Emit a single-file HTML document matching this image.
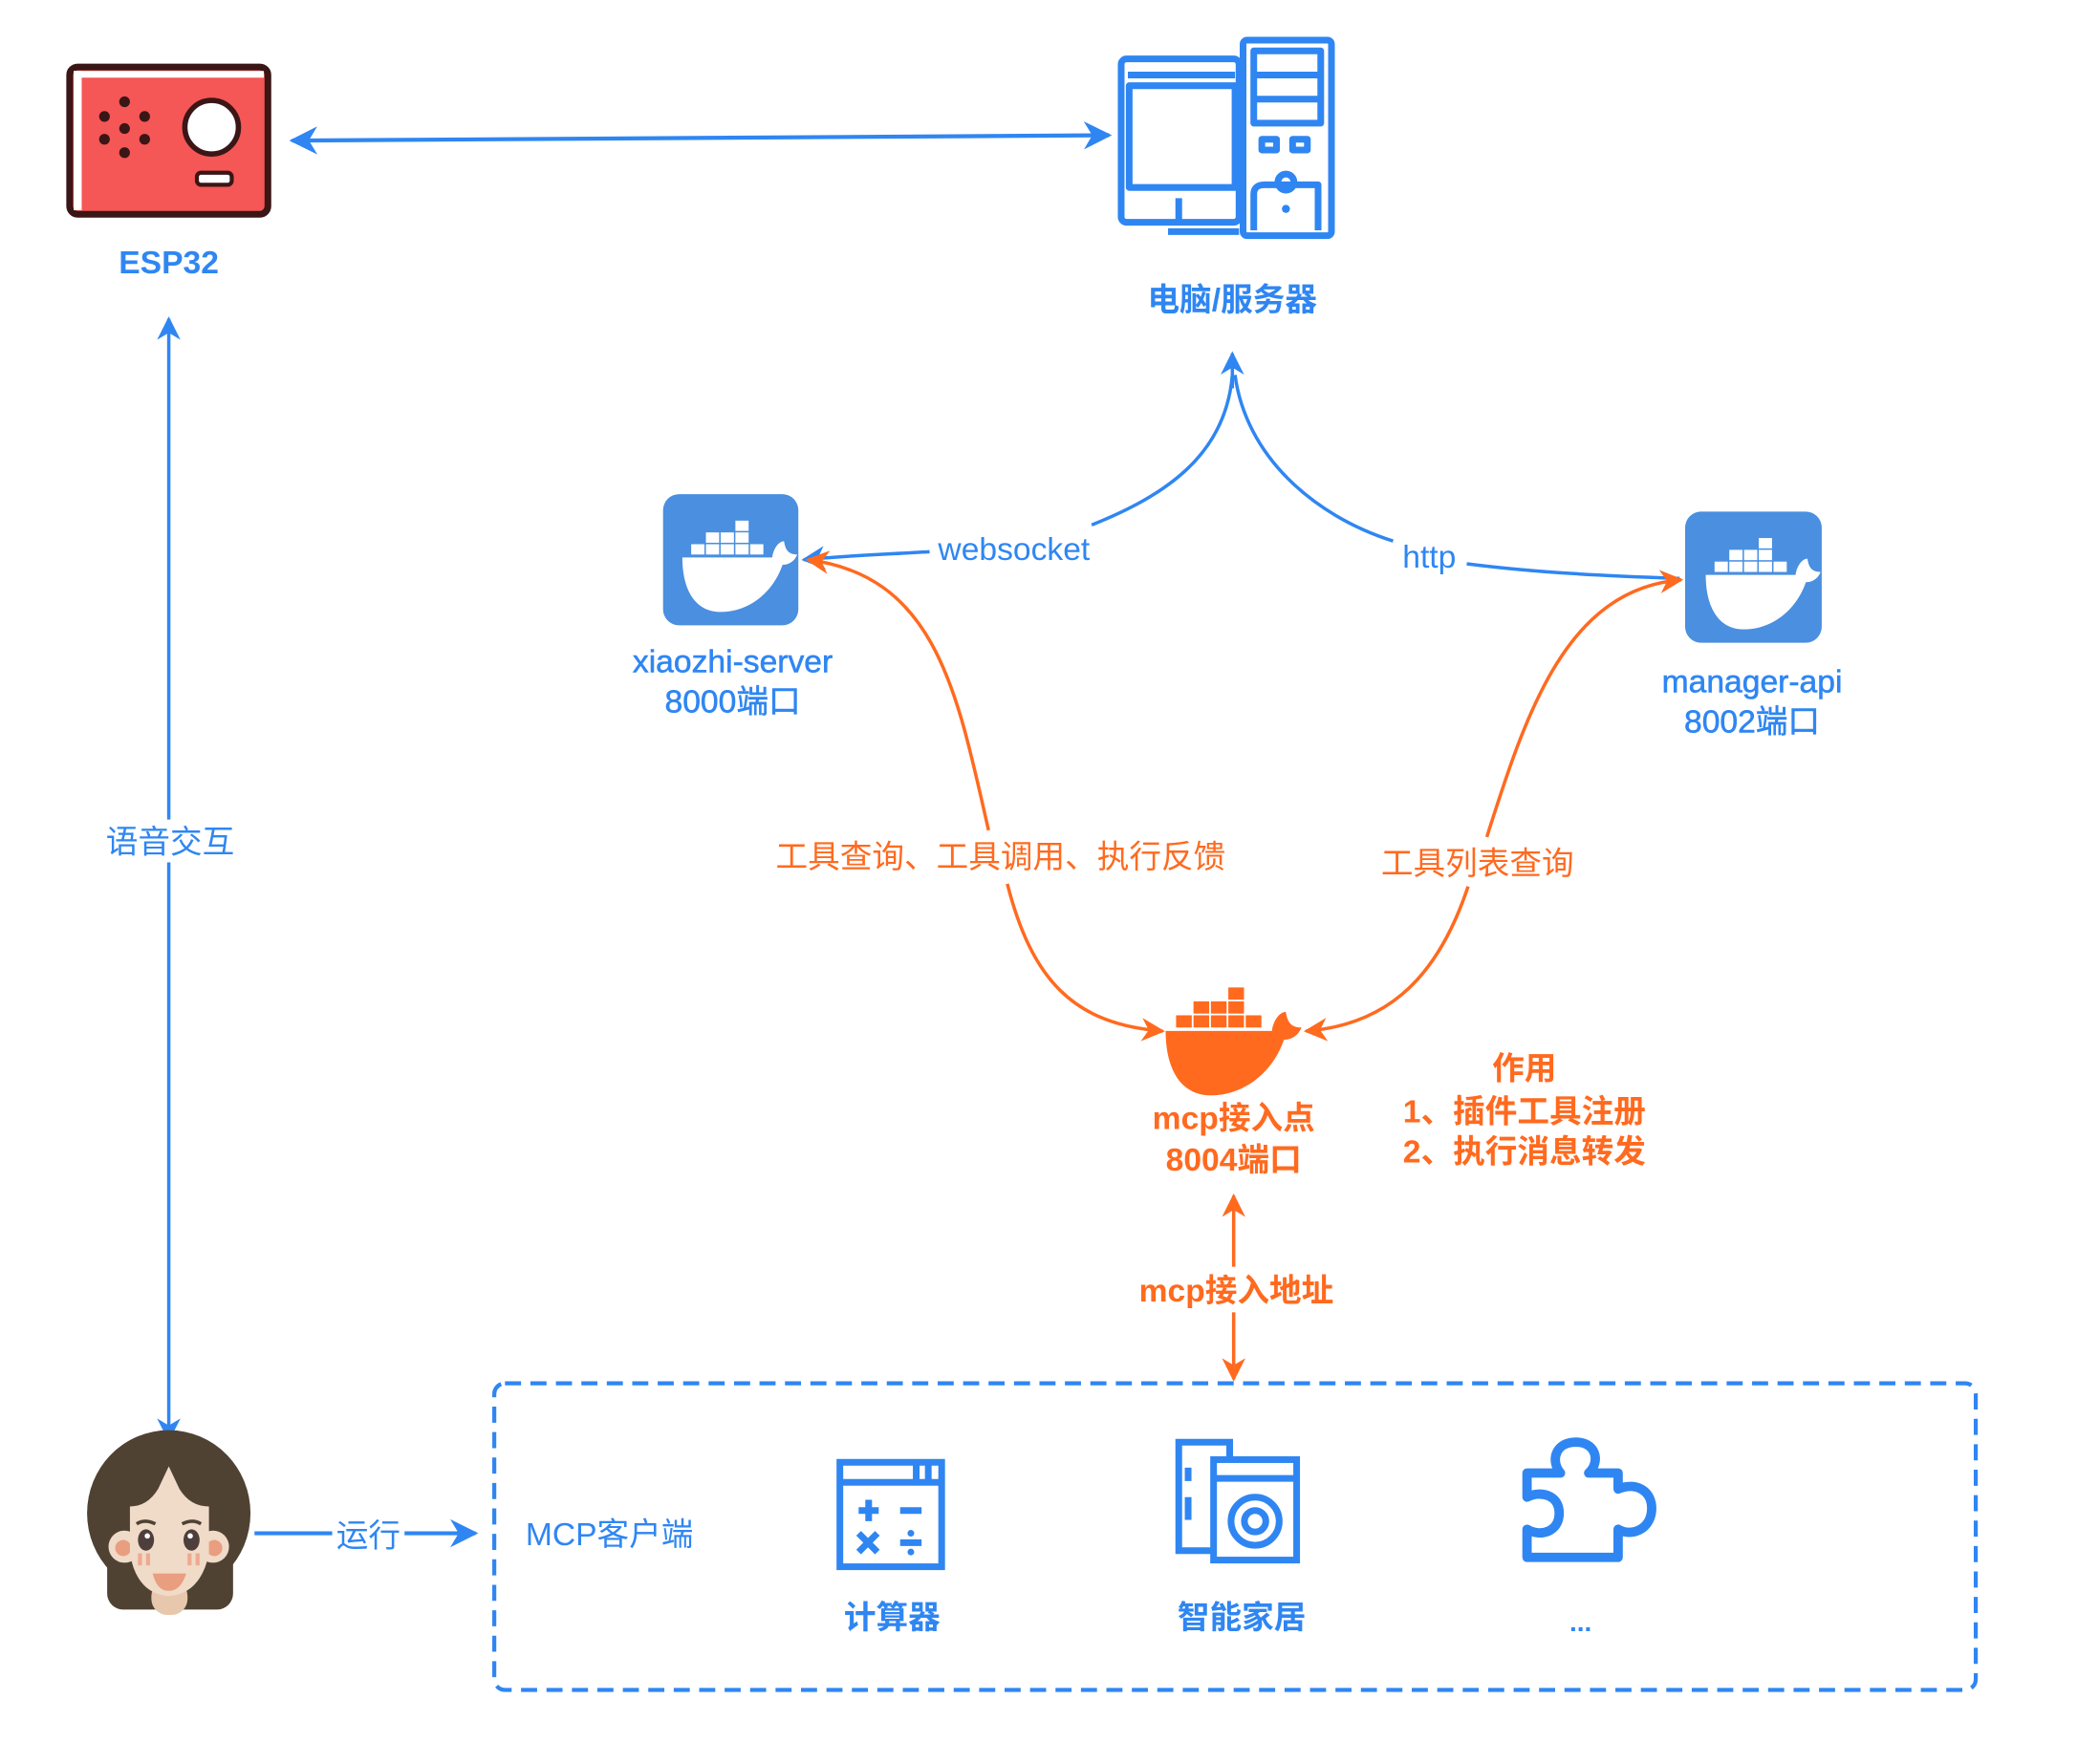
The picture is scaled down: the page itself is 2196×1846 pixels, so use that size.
<!DOCTYPE html>
<html><head><meta charset="utf-8"><style>
html,body{margin:0;padding:0;background:#fff;}
svg{display:block;}
text{font-family:"Liberation Sans","Noto Sans CJK SC",sans-serif;}
</style></head><body>
<svg width="2196" height="1846" viewBox="0 0 1567 1317.3" preserveAspectRatio="none" xmlns="http://www.w3.org/2000/svg">
<defs>
<marker id="ab" viewBox="0 0 10 10" refX="9" refY="5" markerWidth="7" markerHeight="7" orient="auto-start-reverse" markerUnits="strokeWidth"><path d="M0,0 L10,5 L0,10 L3,5 Z" fill="#2f86f2"/></marker>
<marker id="ao" viewBox="0 0 10 10" refX="9" refY="5" markerWidth="7" markerHeight="7" orient="auto-start-reverse" markerUnits="strokeWidth"><path d="M0,0 L10,5 L0,10 L3,5 Z" fill="#ff6a1f"/></marker>
<g id="whale">
<rect x="0" y="24" width="9" height="7"/><rect x="10" y="24" width="9" height="7"/><rect x="20" y="24" width="9" height="7"/><rect x="30" y="24" width="9" height="7"/><rect x="40" y="24" width="9" height="7"/>
<rect x="10" y="16" width="9" height="7"/><rect x="20" y="16" width="9" height="7"/><rect x="30" y="16" width="9" height="7"/>
<rect x="30" y="8" width="9" height="7"/>
<path d="M-6,33 H55 C56,26 60,22 63,22 C64,28 66,31 72,31 C70,36 66,38 62,38 C55,58 38,70 20,70 C2,70 -6,54 -6,33 Z"/>
</g>
</defs>

<!-- ESP32 -->
<rect x="52" y="50" width="148" height="110" rx="6" fill="#f55656" stroke="#3a1616" stroke-width="5"/>
<rect x="55" y="53" width="6" height="104" fill="#fff"/>
<rect x="55" y="53" width="142" height="5" fill="#fff"/>
<g fill="#3a1616"><circle cx="93" cy="76" r="4"/><circle cx="78" cy="87" r="4"/><circle cx="108" cy="87" r="4"/><circle cx="93" cy="96" r="4"/><circle cx="78" cy="104" r="4"/><circle cx="108" cy="104" r="4"/><circle cx="93" cy="114" r="4"/></g>
<circle cx="158" cy="95" r="20" fill="#fff" stroke="#3a1616" stroke-width="4"/>
<rect x="147" y="129" width="26" height="9" rx="3" fill="#fff" stroke="#3a1616" stroke-width="3"/>
<text x="126" y="204" font-size="24" font-weight="bold" fill="#2f86f2" text-anchor="middle">ESP32</text>

<line x1="218" y1="105" x2="828" y2="101" stroke="#2f86f2" stroke-width="3" marker-start="url(#ab)" marker-end="url(#ab)"/>

<!-- Computer -->
<g fill="none" stroke="#2f86f2" stroke-width="5" stroke-linejoin="round">
<rect x="837" y="44" width="88" height="122" rx="4"/>
<line x1="842" y1="56" x2="922" y2="56"/>
<path d="M843,64 H922 V140 H843 Z"/>
<path d="M880,148 V165 M872,173 H925"/>
<rect x="928" y="30" width="66" height="146" rx="3"/>
<path d="M936,38 H986 V92 H936 Z M936,56 H986 M936,74 H986"/>
<rect x="942" y="104" width="11" height="8"/><rect x="965" y="104" width="11" height="8"/>
<path d="M936,172 V145 Q936,138 944,138 H984 V172"/>
<circle cx="960" cy="136" r="6"/>
</g>
<circle cx="960" cy="156" r="3" fill="#2f86f2"/>
<text x="920" y="232" font-size="24" font-weight="bold" fill="#2f86f2" text-anchor="middle">电脑/服务器</text>

<!-- 语音交互 -->
<line x1="126" y1="238" x2="126" y2="1075" stroke="#2f86f2" stroke-width="2.5" marker-start="url(#ab)" marker-end="url(#ab)"/>
<rect x="76" y="612" width="102" height="32" fill="#fff"/>
<text x="127" y="637" font-size="24" fill="#2f86f2" text-anchor="middle">语音交互</text>

<!-- blue curves -->
<line x1="920" y1="290" x2="920" y2="264" stroke="#2f86f2" stroke-width="2.5" marker-end="url(#ab)"/>
<path d="M920,280 C915,340 870,370 815,392" fill="none" stroke="#2f86f2" stroke-width="2.5"/>
<path d="M694,412 C660,414 630,415 600,418" fill="none" stroke="#2f86f2" stroke-width="2.5" marker-end="url(#ab)"/>
<path d="M922,280 C930,340 980,385 1040,404" fill="none" stroke="#2f86f2" stroke-width="2.5"/>
<path d="M1095,421 C1150,428 1200,430 1254,432" fill="none" stroke="#2f86f2" stroke-width="2.5"/>
<text x="757" y="418" font-size="24" fill="#2f86f2" text-anchor="middle">websocket</text>
<text x="1067" y="424" font-size="24" fill="#2f86f2" text-anchor="middle">http</text>

<!-- xiaozhi-server -->
<rect x="495" y="369" width="101" height="98" rx="12" fill="#4a8fe0"/>
<use href="#whale" x="0" y="0" fill="#fff" transform="translate(516,380) scale(1.1)"/>
<text x="547" y="502" font-size="24" font-weight="500" fill="#2f86f2" text-anchor="middle" stroke="#2f86f2" stroke-width="0.4">xiaozhi-server</text>
<text x="547" y="532" font-size="24" fill="#2f86f2" text-anchor="middle" stroke="#2f86f2" stroke-width="0.4">8000端口</text>

<!-- manager-api -->
<rect x="1258" y="382" width="102" height="98" rx="12" fill="#4a8fe0"/>
<use href="#whale" x="0" y="0" fill="#fff" transform="translate(1280,393) scale(1.1)"/>
<text x="1308" y="517" font-size="24" fill="#2f86f2" text-anchor="middle" stroke="#2f86f2" stroke-width="0.4">manager-api</text>
<text x="1308" y="547" font-size="24" fill="#2f86f2" text-anchor="middle" stroke="#2f86f2" stroke-width="0.4">8002端口</text>

<!-- orange curves -->
<path d="M738,620 C715,520 700,430 603,418" fill="none" stroke="#ff6a1f" stroke-width="2.5" marker-end="url(#ao)"/>
<path d="M752,660 C770,730 800,765 868,770" fill="none" stroke="#ff6a1f" stroke-width="2.5" marker-end="url(#ao)"/>
<path d="M1110,625 C1140,530 1170,440 1255,433" fill="none" stroke="#ff6a1f" stroke-width="2.5" marker-end="url(#ao)"/>
<path d="M1096,662 C1075,725 1040,765 975,770" fill="none" stroke="#ff6a1f" stroke-width="2.5" marker-end="url(#ao)"/>
<text x="747" y="648" font-size="24" fill="#ff6a1f" text-anchor="middle">工具查询、工具调用、执行反馈</text>
<text x="1103" y="653" font-size="24" fill="#ff6a1f" text-anchor="middle">工具列表查询</text>

<!-- mcp -->
<use href="#whale" x="0" y="0" fill="#ff6a1f" transform="translate(878,727) scale(1.3)"/>
<text x="921" y="843" font-size="24" font-weight="bold" fill="#ff6a1f" text-anchor="middle">mcp接入点</text>
<text x="921" y="874" font-size="24" font-weight="bold" fill="#ff6a1f" text-anchor="middle">8004端口</text>
<text x="1138" y="806" font-size="24" font-weight="bold" fill="#ff6a1f" text-anchor="middle">作用</text>
<text x="1138" y="838" font-size="24" font-weight="bold" fill="#ff6a1f" text-anchor="middle">1、插件工具注册</text>
<text x="1138" y="868" font-size="24" font-weight="bold" fill="#ff6a1f" text-anchor="middle">2、执行消息转发</text>

<line x1="921" y1="893" x2="921" y2="1030" stroke="#ff6a1f" stroke-width="2.5" marker-start="url(#ao)" marker-end="url(#ao)"/>
<rect x="846" y="946" width="154" height="34" fill="#fff"/>
<text x="923" y="972" font-size="24" font-weight="bold" fill="#ff6a1f" text-anchor="middle">mcp接入地址</text>

<!-- dashed box -->
<rect x="369" y="1033" width="1106" height="229" rx="8" fill="none" stroke="#2f86f2" stroke-width="3" stroke-dasharray="12,7"/>

<!-- person -->
<ellipse cx="126" cy="1130" rx="61" ry="62" fill="#4f4233"/>
<rect x="80" y="1150" width="94" height="52" rx="12" fill="#4f4233"/>
<circle cx="93" cy="1155" r="12" fill="#f0dac8"/><circle cx="159" cy="1155" r="12" fill="#f0dac8"/>
<circle cx="92" cy="1156" r="6" fill="#e99e80"/><circle cx="160" cy="1156" r="6" fill="#e99e80"/>
<rect x="113" y="1180" width="27" height="26" rx="12" fill="#e8c8ac"/>
<path d="M97,1125 Q110,1125 118,1112 L126,1095 L134,1112 Q142,1125 156,1125 L156,1160 Q150,1190 126,1192 Q102,1190 97,1160 Z" fill="#f0dac8"/>
<ellipse cx="109" cy="1150" rx="6" ry="8" fill="#4f3f3c"/><ellipse cx="143" cy="1150" rx="6" ry="8" fill="#4f3f3c"/>
<circle cx="110" cy="1147" r="2" fill="#fff"/><circle cx="142" cy="1147" r="2" fill="#fff"/>
<path d="M102,1138 Q108,1134 116,1138 M136,1138 Q144,1134 150,1138" stroke="#4f4233" stroke-width="2.5" fill="none"/>
<g fill="#eeaa90"><rect x="140" y="1160" width="3" height="9"/><rect x="146" y="1160" width="3" height="9"/><rect x="103" y="1160" width="3" height="9"/><rect x="109" y="1160" width="3" height="9"/></g>
<path d="M114,1175 H139 Q135,1188 126,1188 Q117,1188 114,1175 Z" fill="#e99e80"/>

<!-- 运行 -->
<line x1="190" y1="1145" x2="355" y2="1145" stroke="#2f86f2" stroke-width="3" marker-end="url(#ab)"/>
<rect x="248" y="1130" width="54" height="32" fill="#fff"/>
<text x="275" y="1155" font-size="24" fill="#2f86f2" text-anchor="middle">运行</text>
<text x="455" y="1154" font-size="24" fill="#2f86f2" text-anchor="middle">MCP客户端</text>

<!-- calculator -->
<g fill="none" stroke="#2f86f2" stroke-width="5">
<rect x="627" y="1092" width="76" height="78"/>
<line x1="627" y1="1107" x2="703" y2="1107"/>
<line x1="684" y1="1092" x2="684" y2="1107"/><line x1="693" y1="1092" x2="693" y2="1107"/>
<path d="M641,1128 H656 M648.5,1120 V1136 M672,1128 H688 M641,1145 L655,1159 M655,1145 L641,1159 M672,1152 H688"/>
</g>
<circle cx="680" cy="1145" r="2.5" fill="#2f86f2"/><circle cx="680" cy="1159" r="2.5" fill="#2f86f2"/>
<text x="666" y="1216" font-size="24" font-weight="bold" fill="#2f86f2" text-anchor="middle">计算器</text>

<!-- smart home -->
<g fill="none" stroke="#2f86f2" stroke-width="5">
<path d="M906,1158 H880 V1077 H918 V1090"/>
<rect x="906" y="1090" width="62" height="75"/>
<line x1="906" y1="1104" x2="968" y2="1104"/>
<circle cx="937" cy="1136" r="18"/><circle cx="937" cy="1136" r="8"/>
<line x1="887" y1="1096" x2="887" y2="1106"/><line x1="887" y1="1118" x2="887" y2="1135"/>
</g>
<text x="927" y="1216" font-size="24" font-weight="bold" fill="#2f86f2" text-anchor="middle">智能家居</text>

<!-- puzzle -->
<path d="M1140,1100 H1165 C1158,1092 1160,1078 1175,1077 C1192,1076 1195,1092 1186,1100 H1208 V1112 C1222,1106 1234,1114 1233,1128 C1232,1142 1218,1148 1208,1142 V1163 H1140 V1142 C1150,1148 1164,1144 1164,1130 C1164,1116 1150,1113 1140,1118 Z" fill="none" stroke="#2f86f2" stroke-width="7" stroke-linejoin="round"/>
<text x="1180" y="1218" font-size="20" font-weight="bold" fill="#2f86f2" text-anchor="middle">...</text>
</svg>
</body></html>
